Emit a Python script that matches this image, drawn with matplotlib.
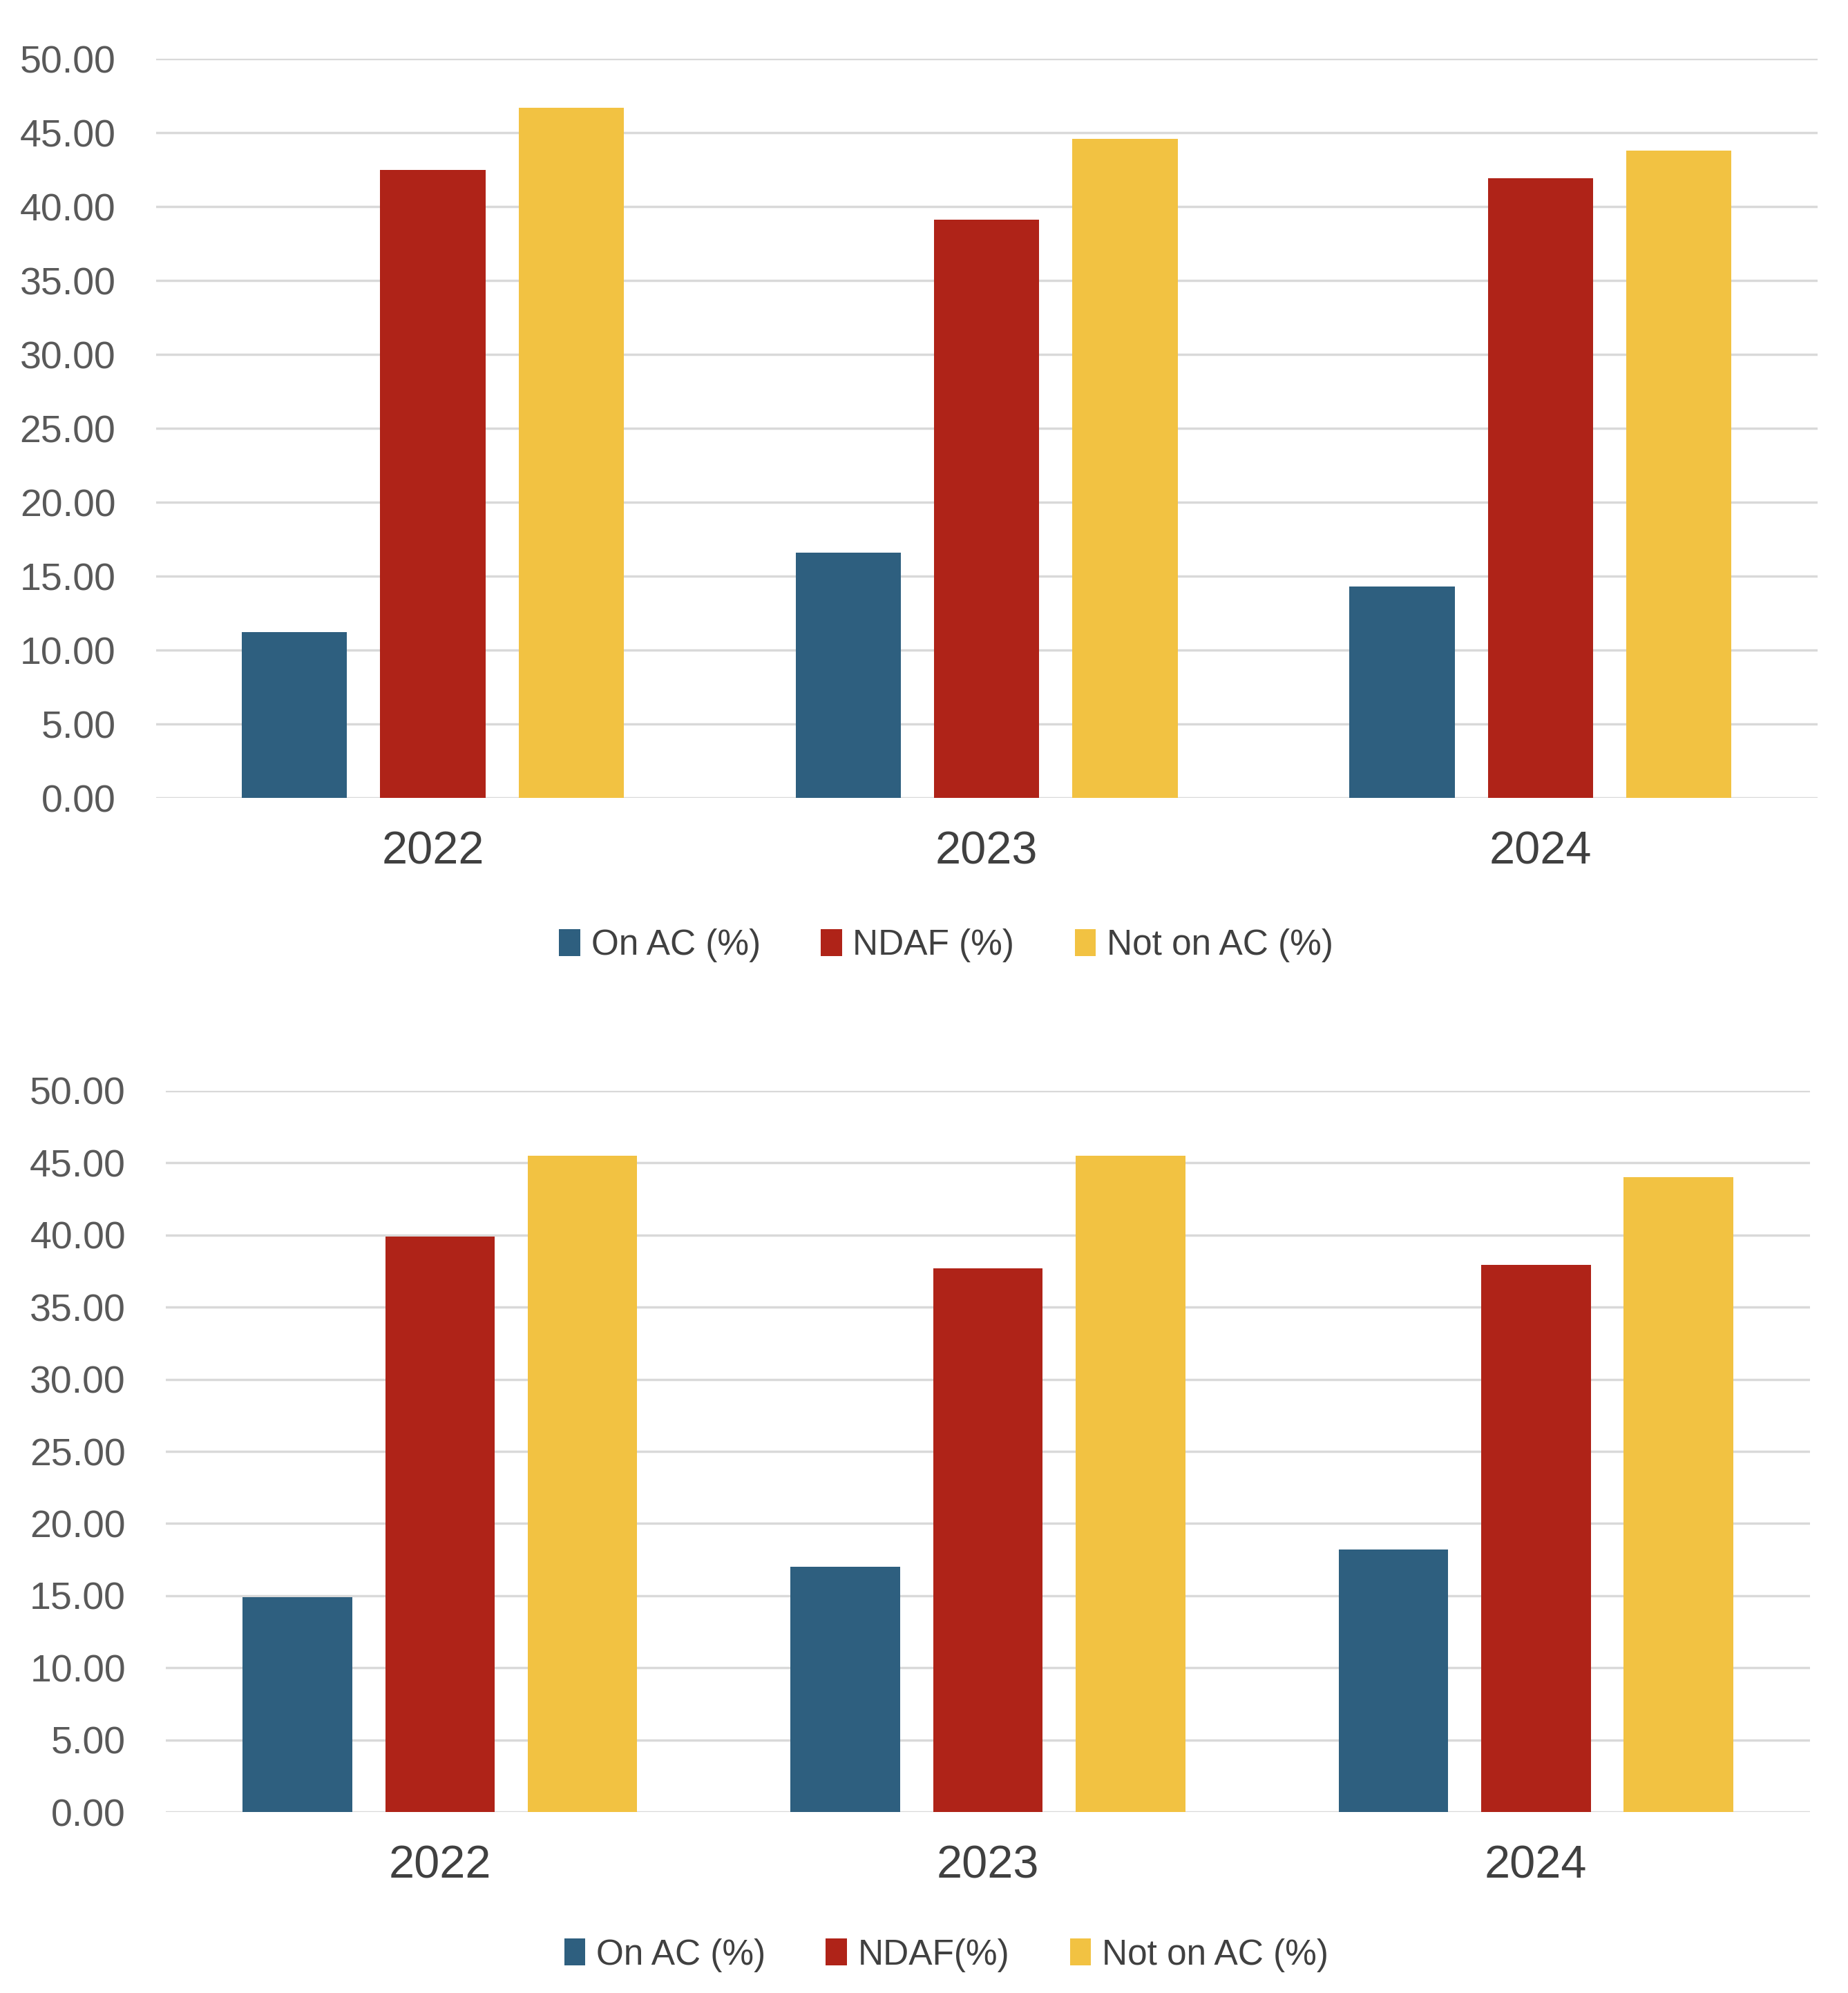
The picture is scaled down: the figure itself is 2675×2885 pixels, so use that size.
import numpy as np
import matplotlib.pyplot as plt

years = ['2022', '2023', '2024']

# top chart
on_ac_top = [11.2, 16.6, 14.3]
ndaf_top = [42.5, 39.1, 41.9]
not_ac_top = [46.7, 44.6, 43.8]

# bottom chart
on_ac_bot = [14.9, 17.0, 18.2]
ndaf_bot = [39.9, 37.7, 37.9]
not_ac_bot = [45.5, 45.5, 44.0]

labels_top = ['On AC (%)', 'NDAF (%)', 'Not on AC (%)']
labels_bot = ['On AC (%)', 'NDAF(%)', 'Not on AC (%)']
colors = ['#2E5F7F', '#AF2318', '#F2C242']

plt.rcParams['font.family'] = ['Liberation Sans', 'DejaVu Sans']

fig = plt.figure(figsize=(26.75, 28.85), dpi=100)
ax1 = fig.add_axes([0.0844, 0.5996, 0.8990, 0.3709])
ax2 = fig.add_axes([0.0898, 0.0907, 0.8896, 0.3621])


def draw(ax, series, labels, width, step, legend_y):
    x = np.arange(len(years))
    handles = []
    for i, (vals, lab) in enumerate(zip(series, labels)):
        h = ax.bar(x + (i - 1) * step, vals, width, color=colors[i], label=lab, zorder=3)
        handles.append(h)
    ax.set_xlim(-0.5, 2.5)
    ax.set_ylim(0, 50)
    ax.set_yticks(np.arange(0, 50.1, 5))
    ax.set_yticklabels(['%.2f' % v for v in np.arange(0, 50.1, 5)])
    ax.set_xticks(x)
    ax.set_xticklabels(years)
    ax.grid(axis='y', color='#D9D9D9', lw=2.5, zorder=0)
    for s in ax.spines.values():
        s.set_visible(False)
    ax.tick_params(axis='y', length=0, pad=42, labelsize=40, labelcolor='#595959')
    ax.tick_params(axis='x', length=0, pad=34, labelsize=48, labelcolor='#404040')
    fig.legend(handles=handles, loc='center', bbox_to_anchor=(0.512, legend_y), ncol=3,
               frameon=False, fontsize=37, labelcolor='#404040',
               handlelength=0.6, handleheight=0.8, handletextpad=0.3, columnspacing=1.7)


draw(ax1, [on_ac_top, ndaf_top, not_ac_top], labels_top, 0.19, 0.25, 0.5255)
draw(ax2, [on_ac_bot, ndaf_bot, not_ac_bot], labels_bot, 0.20, 0.26, 0.019)

fig.savefig('out.png', dpi=100, facecolor='white')
